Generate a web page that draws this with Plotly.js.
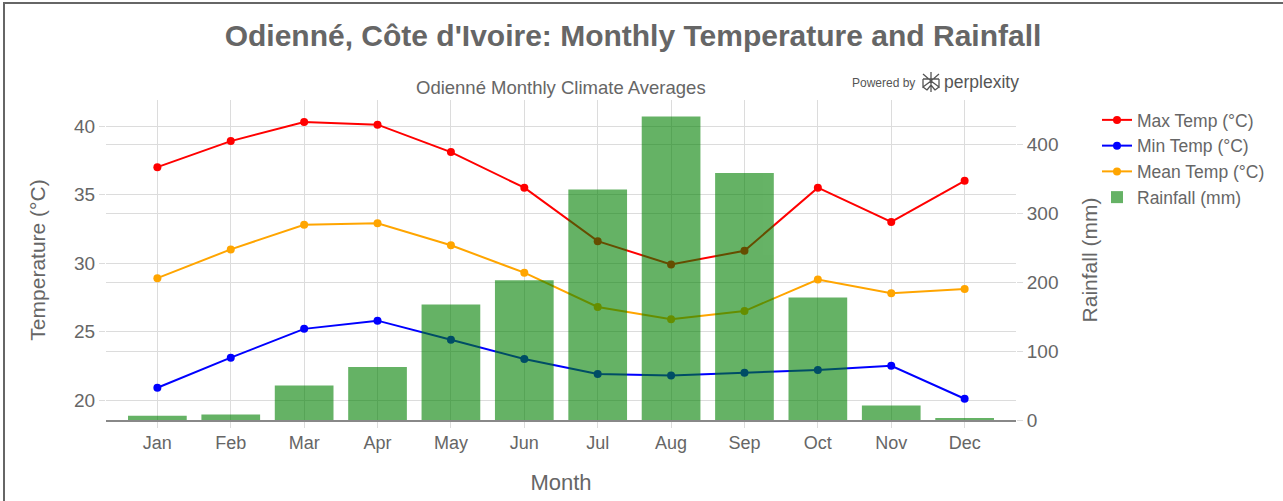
<!DOCTYPE html>
<html>
<head>
<meta charset="utf-8">
<script src="https://cdn.plot.ly/plotly-3.0.1.min.js"></script>
<style>
  html, body { margin: 0; padding: 0; background: #fff; overflow: hidden; }
  #frame { position: absolute; left: 3px; top: 2px; width: 2000px; height: 2000px; border: 2px solid #666; box-sizing: border-box; }
  #chart { position: absolute; left: 0; top: 0; width: 1283px; height: 501px; }
</style>
</head>
<body>
<div id="frame"></div>
<div id="chart"></div>
<script>
const months = ["Jan","Feb","Mar","Apr","May","Jun","Jul","Aug","Sep","Oct","Nov","Dec"];
const maxTemp = [37.0, 38.9, 40.3, 40.1, 38.1, 35.5, 31.6, 29.9, 30.9, 35.5, 33.0, 36.0];
const minTemp = [20.9, 23.1, 25.2, 25.8, 24.4, 23.0, 21.9, 21.8, 22.0, 22.2, 22.5, 20.1];
const meanTemp = [28.9, 31.0, 32.8, 32.9, 31.3, 29.3, 26.8, 25.9, 26.5, 28.8, 27.8, 28.1];
const rainfall = [6, 8, 50, 77, 168, 203, 335, 441, 359, 178, 21, 2];

const FONT = "Liberation Sans, Arial, Helvetica, sans-serif";
const GREY = "#666";
const GRID = "#dcdcdc";

const traces = [
  {x: months, y: maxTemp, name: "Max Temp (°C)", type: "scatter", mode: "lines+markers",
   line: {color: "red", width: 2}, marker: {color: "red", size: 8}, yaxis: "y"},
  {x: months, y: minTemp, name: "Min Temp (°C)", type: "scatter", mode: "lines+markers",
   line: {color: "blue", width: 2}, marker: {color: "blue", size: 8}, yaxis: "y"},
  {x: months, y: meanTemp, name: "Mean Temp (°C)", type: "scatter", mode: "lines+markers",
   line: {color: "orange", width: 2}, marker: {color: "orange", size: 8}, yaxis: "y"},
  {x: months, y: rainfall, name: "Rainfall (mm)", type: "bar", marker: {color: "green"},
   opacity: 0.6, yaxis: "y2"}
];

const L = 106, R = 1016, T = 100, B = 420;
const px = v => (v - L) / (R - L);
const py = v => (B - v) / (B - T);

const layout = {
  width: 1283, height: 501,
  paper_bgcolor: "rgba(0,0,0,0)", plot_bgcolor: "#fff",
  margin: {l: L, r: 1283 - R, t: T, b: 501 - B, pad: 0},
  font: {family: FONT, color: GREY},
  title: {text: "Odienné, Côte d'Ivoire: Monthly Temperature and Rainfall",
          x: 633 / 1283, xanchor: "center", xref: "container",
          y: 1 - 35 / 501, yanchor: "middle", yref: "container",
          font: {family: FONT, size: 30, color: GREY, weight: 600}},
  showlegend: true,
  legend: {x: px(1097), xanchor: "left", y: py(102), yanchor: "top",
           font: {family: FONT, size: 17.5, color: GREY}, bgcolor: "rgba(0,0,0,0)"},
  bargap: 0.2,
  xaxis: {type: "category", range: [-0.7, 11.7], showgrid: true, gridcolor: GRID,
          ticks: "outside", ticklen: 6, tickcolor: GRID, showline: true, linecolor: "#888", linewidth: 1.5,
          tickfont: {size: 18, color: GREY},
          title: {text: "Month", font: {size: 22, color: GREY}, standoff: 22}},
  yaxis: {range: [18.55, 41.9], dtick: 5, showgrid: true, gridcolor: GRID, zeroline: false,
          ticks: "outside", ticklen: 6, tickcolor: GRID,
          tickfont: {size: 19, color: GREY},
          title: {text: "Temperature (°C)", font: {size: 21, color: GREY}, standoff: 22}},
  yaxis2: {range: [0, 465], dtick: 100, overlaying: "y", side: "right", showgrid: true,
           gridcolor: GRID, zeroline: false, ticks: "outside", ticklen: 6, tickcolor: GRID,
           tickfont: {size: 19, color: GREY},
           title: {text: "Rainfall (mm)", font: {size: 21, color: GREY}, standoff: 24}},
  annotations: [
    {text: "Odienné Monthly Climate Averages", xref: "paper", yref: "paper",
     x: 0.5, xanchor: "center", y: py(87), yanchor: "middle", showarrow: false,
     font: {size: 18.5, color: GREY}},
    {text: "Powered by", xref: "paper", yref: "paper", x: px(917), xanchor: "right",
     y: py(83), yanchor: "middle", showarrow: false,
     font: {size: 12, color: "#555", weight: 500}},
    {text: "perplexity", xref: "paper", yref: "paper", x: px(942), xanchor: "left",
     y: py(82), yanchor: "middle", showarrow: false,
     font: {size: 17.5, color: "#555"}}
  ],
  shapes: [
    {type: "path", xref: "paper", yref: "paper", xsizemode: "pixel", ysizemode: "pixel",
     xanchor: px(931), yanchor: py(82),
     path: "M0,10 L0,-10 M-8,8 L0,1 L8,8 M-8,3 L8,3 M-8,3 L-8,-5 L0,1 M8,3 L8,-5 L0,1 M-4,-8 L0,-3 L4,-8 M-8,-5 L-4,-8 M8,-5 L4,-8",
     line: {color: "#555", width: 1.3}}
  ]
};

Plotly.newPlot("chart", traces, layout, {displayModeBar: false, responsive: false});
</script>
</body>
</html>
